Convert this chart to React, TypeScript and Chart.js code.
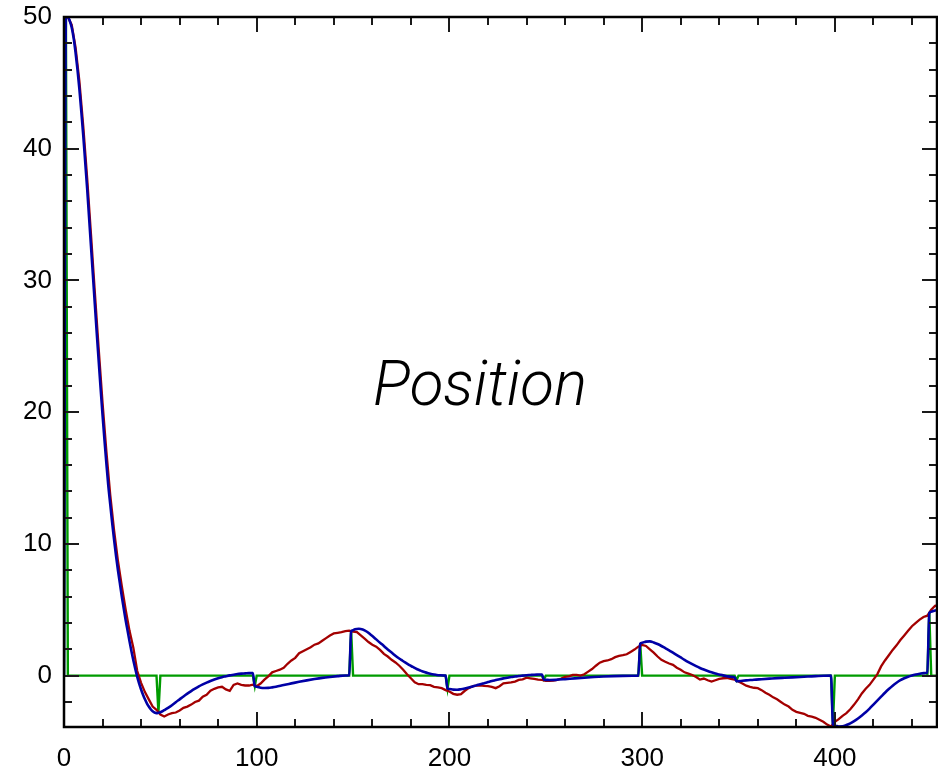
import React, { useEffect, useRef } from 'react';
import { Chart, registerables } from 'chart.js';

Chart.register(...registerables);

// ---- axis ranges & ticks ----
const X_MIN = 0;
const X_MAX = 453;
const Y_MIN = -3.9;
const Y_MAX = 50;
const xTickValues = [0, 100, 200, 300, 400];
const yTickValues = [0, 10, 20, 30, 40, 50];
const xMinorStep = 20;
const yMinorStep = 2;
const titleText = 'Position';

// ---- blue series (estimate) ----
const blueX = [
  0, 1, 2, 3, 4, 5, 6, 7, 8, 9, 10, 11, 12, 13, 14, 15, 16, 17, 18, 19, 20, 21, 22, 23, 24, 25, 26, 27, 28, 29,
  30, 31, 32, 33, 34, 35, 36, 37, 38, 39, 40, 41, 42, 43, 44, 45, 46, 47, 48, 49,
  50, 52, 54, 56, 58, 60, 62, 64, 66, 68, 70, 72, 74, 76, 78, 80, 82, 84, 86, 88, 90, 92, 94, 96, 98,
  99, 100, 102, 104, 106, 108, 110, 114, 118, 122, 126, 130, 134, 138, 142, 146, 148,
  149, 150, 151, 153, 155, 157, 159, 161, 163, 165, 167, 169, 171, 173, 175, 177, 179, 181, 183, 185, 187, 189, 191, 193, 195, 198,
  199, 200, 202, 204, 206, 208, 210, 212, 214, 216, 218, 220, 222, 224, 226, 228, 230, 232, 234, 236, 238, 240, 242, 244, 246, 248,
  249, 250, 252, 255, 260, 265, 270, 275, 280, 285, 290, 295, 298,
  299, 300, 302, 304, 306, 308, 310, 312, 314, 316, 318, 320, 322, 324, 326, 328, 330, 332, 334, 336, 338, 340, 342, 344, 346, 348,
  349, 350, 352, 355, 358, 362, 366, 370, 374, 378, 382, 386, 390, 394, 398,
  399, 400, 402, 404, 406, 408, 410, 412, 414, 416, 418, 420, 422, 424, 426, 428, 430, 432, 434, 436, 438, 440, 442, 444, 446, 448,
  449, 450, 452, 454,
];
const blueY = [
  0, 50, 50, 49.7, 49.2, 48.4, 47.3, 46.0, 44.5, 42.8, 41.0, 39.0, 37.0, 34.8, 32.6, 30.4, 28.2, 26.0, 23.9, 21.8, 19.8, 17.9, 16.1, 14.4, 13.0, 11.6, 10.3, 9.1, 8.0, 7.0,
  6.0, 5.1, 4.2, 3.4, 2.6, 1.85, 1.15, 0.5, -0.1, -0.6, -1.05, -1.45, -1.8, -2.1, -2.35, -2.55, -2.7, -2.8, -2.85, -2.82,
  -2.78, -2.62, -2.45, -2.25, -2.02, -1.8, -1.58, -1.37, -1.17, -0.99, -0.82, -0.67, -0.53, -0.41, -0.3, -0.2, -0.12, -0.05, 0.02, 0.07, 0.12, 0.15, 0.17, 0.19, 0.2,
  -0.8, -0.85, -0.92, -0.94, -0.93, -0.89, -0.84, -0.71, -0.59, -0.47, -0.36, -0.26, -0.17, -0.1, -0.04, 0.01, 0.03,
  3.35, 3.45, 3.52, 3.56, 3.5, 3.35, 3.12, 2.88, 2.62, 2.38, 2.12, 1.87, 1.63, 1.4, 1.2, 1.0, 0.82, 0.66, 0.5, 0.38, 0.27, 0.18, 0.11, 0.06, 0.03, 0.0,
  -0.98, -1.02, -1.06, -1.07, -1.03, -0.97, -0.9, -0.82, -0.74, -0.65, -0.57, -0.49, -0.41, -0.34, -0.27, -0.21, -0.16, -0.11, -0.07, -0.03, 0.0, 0.03, 0.05, 0.07, 0.08, 0.09,
  -0.3, -0.32, -0.33, -0.32, -0.27, -0.21, -0.16, -0.11, -0.07, -0.04, -0.02, -0.01, 0.0,
  2.42, 2.5, 2.58, 2.6, 2.52, 2.4, 2.25, 2.08, 1.92, 1.74, 1.56, 1.38, 1.2, 1.03, 0.87, 0.72, 0.58, 0.46, 0.35, 0.25, 0.16, 0.09, 0.02, -0.04, -0.09, -0.13,
  -0.43, -0.42, -0.39, -0.35, -0.31, -0.27, -0.23, -0.19, -0.16, -0.13, -0.1, -0.07, -0.04, -0.01, 0.0,
  -3.7, -3.8, -3.86, -3.85, -3.75, -3.62, -3.45, -3.25, -3.02, -2.78, -2.5, -2.2, -1.9, -1.6, -1.3, -1.02, -0.76, -0.54, -0.35, -0.2, -0.08, 0.01, 0.08, 0.14, 0.19, 0.23,
  4.75, 4.85, 4.95, 4.97,
];

// ---- red series (noisy measurement), sampled every redStep units from 0 ----
const redStep = 2;
const redY = [
  50, 50, 49.4, 47.7, 45.1, 41.7, 37.8, 33.5, 29.1, 24.8,
  20.7, 17.0, 13.7, 11.0, 8.7, 6.8, 5.0, 3.4, 2.1, 0.35,
  -0.55, -1.25, -1.8, -2.35, -2.6, -2.95, -3.1, -2.95, -2.85, -2.8,
  -2.65, -2.45, -2.35, -2.2, -2.0, -1.9, -1.6, -1.45, -1.15, -1.0,
  -0.9, -0.85, -1.05, -1.15, -0.7, -0.6, -0.7, -0.75, -0.75, -0.68,
  -0.8, -0.6, -0.3, -0.05, 0.25, 0.35, 0.45, 0.6, 0.9, 1.15,
  1.35, 1.7, 1.85, 2.0, 2.15, 2.35, 2.45, 2.65, 2.85, 3.05,
  3.2, 3.25, 3.3, 3.38, 3.42, 3.35, 3.3, 3.05, 2.8, 2.55,
  2.35, 2.2, 1.95, 1.65, 1.45, 1.2, 1.0, 0.75, 0.45, 0.1,
  -0.2, -0.5, -0.65, -0.65, -0.7, -0.72, -0.85, -0.9, -0.95, -1.1,
  -1.2, -1.38, -1.45, -1.4, -1.15, -0.95, -0.82, -0.76, -0.74, -0.78,
  -0.8, -0.85, -0.95, -0.8, -0.58, -0.55, -0.52, -0.45, -0.32, -0.28,
  -0.15, -0.2, -0.25, -0.3, -0.32, -0.4, -0.4, -0.38, -0.32, -0.22,
  -0.1, -0.05, 0.05, 0.05, 0.0, 0.1, 0.3, 0.5, 0.75, 0.98,
  1.1, 1.15, 1.25, 1.4, 1.5, 1.55, 1.62, 1.8, 1.98, 2.2,
  2.33, 2.25, 2.0, 1.75, 1.45, 1.2, 1.05, 0.92, 0.82, 0.6,
  0.45, 0.25, 0.15, 0.05, -0.1, -0.3, -0.22, -0.35, -0.45, -0.35,
  -0.25, -0.2, -0.18, -0.25, -0.3, -0.45, -0.6, -0.76, -0.85, -0.92,
  -0.95, -1.1, -1.3, -1.45, -1.65, -1.8, -2.0, -2.2, -2.35, -2.6,
  -2.75, -2.82, -2.9, -3.05, -3.12, -3.2, -3.35, -3.5, -3.72, -3.86,
  -3.5, -3.3, -3.05, -2.85, -2.55, -2.2, -1.8, -1.35, -1.0, -0.7,
  -0.3, 0.1, 0.7, 1.15, 1.55, 1.95, 2.3, 2.7, 3.05, 3.4,
  3.75, 4.0, 4.25, 4.45, 4.55, 5.0, 5.3, 5.35,
];

// ---- green series (update impulses) ----
const greenX = [0, 1, 2, 48, 49, 50, 98, 99, 100, 148, 149, 150, 198, 199, 200, 248, 249, 250, 298, 299, 300, 348, 349, 350, 398, 399, 400, 448, 449, 450, 454];
const greenY = [0, 50, 0, 0, -2.8, 0, 0, -0.8, 0, 0, 3.4, 0, 0, -1.0, 0, 0, -0.3, 0, 0, 2.45, 0, 0, -0.35, 0, 0, -3.7, 0, 0, 4.8, 0, 0];

const FONT = "'Liberation Sans', Arial, Helvetica, sans-serif";

const framePlugin = {
  id: 'frameTicks',
  afterDraw(chart: any) {
    const { ctx, chartArea: a, scales } = chart;
    const xs = scales.x;
    const ys = scales.y;
    ctx.save();
    ctx.strokeStyle = '#1a1a1a';
    ctx.lineWidth = 2;
    ctx.beginPath();
    const nx = Math.floor((X_MAX - X_MIN) / xMinorStep);
    for (let i = 0; i <= nx; i++) {
      const v = X_MIN + i * xMinorStep;
      const px = Math.round(xs.getPixelForValue(v));
      const len = xTickValues.includes(v) ? 15 : 8;
      ctx.moveTo(px, a.bottom);
      ctx.lineTo(px, a.bottom - len);
      ctx.moveTo(px, a.top);
      ctx.lineTo(px, a.top + len);
    }
    const yStart = Math.ceil(Y_MIN / yMinorStep);
    const yEnd = Math.floor(Y_MAX / yMinorStep);
    for (let k = yStart; k <= yEnd; k++) {
      const v = k * yMinorStep;
      const py = Math.round(ys.getPixelForValue(v));
      const len = yTickValues.includes(v) ? 15 : 8;
      ctx.moveTo(a.left, py);
      ctx.lineTo(a.left + len, py);
      ctx.moveTo(a.right, py);
      ctx.lineTo(a.right - len, py);
    }
    ctx.stroke();
    ctx.strokeStyle = '#000';
    ctx.lineWidth = 2.5;
    ctx.strokeRect(a.left, a.top, a.right - a.left, a.bottom - a.top);
    ctx.fillStyle = '#000';
    ctx.font = `italic 300 62px Roboto, ${FONT}`;
    ctx.textAlign = 'center';
    ctx.textBaseline = 'alphabetic';
    const tx = a.left + 0.4765 * (a.right - a.left);
    const ty = a.top + 0.547 * (a.bottom - a.top);
    ctx.fillText(titleText, tx, ty);
    ctx.restore();
  },
};

export default function App() {
  const canvasRef = useRef<HTMLCanvasElement | null>(null);

  useEffect(() => {
    const canvas = canvasRef.current;
    if (!canvas) return;
    const chart = new Chart(canvas, {
      type: 'line',
      data: {
        datasets: [
          {
            label: 'estimate',
            data: blueX.map((x, i) => ({ x, y: blueY[i] })),
            borderColor: '#0000a6',
            borderWidth: 2.6,
            pointRadius: 0,
            cubicInterpolationMode: 'monotone',
            fill: false,
          },
          {
            label: 'measurement',
            data: redY.map((y, i) => ({ x: i * redStep, y })),
            borderColor: '#a30000',
            borderWidth: 2.3,
            pointRadius: 0,
            tension: 0,
            fill: false,
          },
          {
            label: 'update',
            data: greenX.map((x, i) => ({ x, y: greenY[i] })),
            borderColor: '#009b00',
            borderWidth: 2.4,
            pointRadius: 0,
            tension: 0,
            fill: false,
          },
        ],
      },
      options: {
        responsive: false,
        maintainAspectRatio: false,
        animation: false,
        devicePixelRatio: 1,
        layout: { padding: { top: 17, right: 1, left: 0, bottom: 0 } },
        plugins: {
          legend: { display: false },
          tooltip: { enabled: false },
          title: { display: false },
        },
        scales: {
          x: {
            type: 'linear',
            min: X_MIN,
            max: X_MAX,
            grid: { display: false, drawTicks: false },
            border: { display: false },
            afterBuildTicks: (s: any) => {
              s.ticks = xTickValues.map((v) => ({ value: v }));
            },
            afterFit: (s: any) => {
              s.height = 49;
              s.paddingLeft = 0;
              s.paddingRight = 0;
            },
            ticks: {
              color: '#000',
              font: { family: FONT, size: 26 },
              padding: 16,
              maxRotation: 0,
              autoSkip: false,
            },
          },
          y: {
            type: 'linear',
            min: Y_MIN,
            max: Y_MAX,
            grid: { display: false, drawTicks: false },
            border: { display: false },
            afterBuildTicks: (s: any) => {
              s.ticks = yTickValues.map((v) => ({ value: v }));
            },
            afterFit: (s: any) => {
              s.width = 64;
              s.paddingTop = 0;
              s.paddingBottom = 0;
            },
            ticks: {
              color: '#000',
              font: { family: FONT, size: 26 },
              padding: 12,
              autoSkip: false,
            },
          },
        },
      },
      plugins: [framePlugin],
    } as any);
    return () => chart.destroy();
  }, []);

  return (
    <div style={{ position: 'fixed', left: 0, top: 0, width: 938, height: 776, background: '#fff' }}>
      <canvas ref={canvasRef} width={938} height={776} style={{ display: 'block', width: 938, height: 776 }} />
    </div>
  );
}
